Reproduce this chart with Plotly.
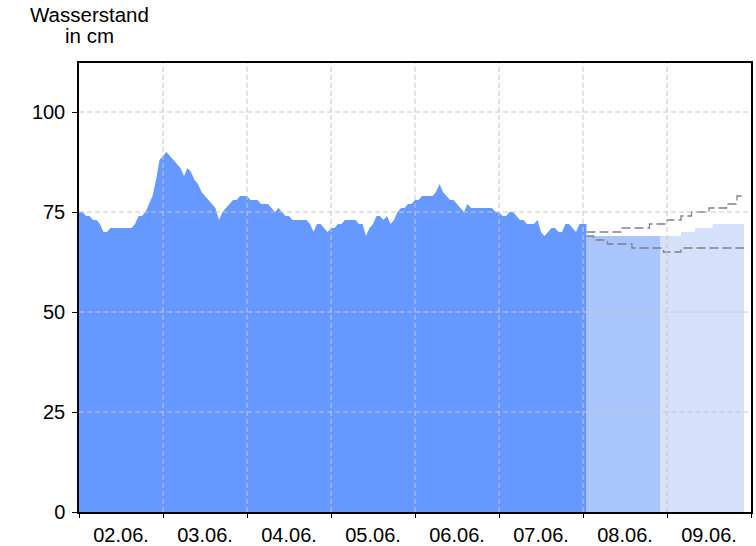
import plotly.graph_objects as go
import pandas as pd

# ---- data ----
start = pd.Timestamp("2023-06-02 00:00")

# measured water level (cm), hourly from 02.06. 00:00
measured_cm = [
    75, 75, 74, 74, 73, 73, 72, 70, 70, 71, 71, 71, 71, 71, 71, 71,
    72, 74, 74, 75, 77, 79, 83, 88, 89, 90, 89, 88, 87, 86, 84, 86,
    85, 83, 82, 80, 79, 78, 77, 76, 73, 75, 76, 77, 78, 78, 79, 79,
    79, 78, 78, 78, 77, 77, 77, 76, 75, 76, 75, 74, 74, 73, 73, 73,
    73, 73, 72, 70, 72, 72, 71, 70, 71, 71, 72, 72, 73, 73, 73, 73,
    72, 72, 69, 71, 72, 74, 74, 73, 74, 72, 73, 75, 76, 76, 77, 77,
    78, 78, 79, 79, 79, 79, 80, 82, 80, 79, 78, 78, 77, 76, 75, 77,
    76, 76, 76, 76, 76, 76, 76, 75, 75, 74, 74, 75, 75, 74, 73, 73,
    72, 72, 72, 73, 70, 69, 70, 71, 71, 70, 70, 72, 72, 71, 70, 72,
    72, 72,
]

# forecast (hours since 02.06. 00:00, step values)
forecast_hours = [145, 166]
forecast_cm = [69, 69]
estimate_hours = [166, 172, 176, 181, 190]
estimate_cm = [69, 70, 71, 72, 72]

upper_hours = [145, 155, 163, 168, 172, 175, 180, 185, 188, 190]
upper_cm = [70, 71, 72, 73, 74, 75, 76, 77, 79, 79]
lower_hours = [145, 147, 151, 158, 167, 172, 190]
lower_cm = [69, 68, 67, 66, 65, 66, 66]

y_ticks = [0, 25, 50, 75, 100]
day_count = 8
title_lines = ["Wasserstand", "in cm"]

# ---- helpers ----
def ts(hours):
    return [start + pd.Timedelta(hours=h) for h in hours]

measured_x = ts(range(len(measured_cm)))

C_MEAS = "#6699FF"
C_FC = "#A9C5FB"
C_EST = "#D5E1FA"
GRID = "#C8C8C8"
FONT = "Liberation Sans, Arial, sans-serif"
GRID_DASH = "5px,3px"
BAND_DASH = "9px,4px"

fig = go.Figure()

fig.add_trace(go.Scatter(
    x=ts(estimate_hours), y=estimate_cm, mode="lines", line=dict(width=0, shape="hv"),
    fill="tozeroy", fillcolor=C_EST, hoverinfo="skip", showlegend=False))
fig.add_trace(go.Scatter(
    x=ts(forecast_hours), y=forecast_cm, mode="lines", line=dict(width=0, shape="hv"),
    fill="tozeroy", fillcolor=C_FC, hoverinfo="skip", showlegend=False))
fig.add_trace(go.Scatter(
    x=measured_x, y=measured_cm, mode="lines", line=dict(width=0),
    fill="tozeroy", fillcolor=C_MEAS, showlegend=False))
fig.add_trace(go.Scatter(
    x=ts(upper_hours), y=upper_cm, mode="lines",
    line=dict(color="#808080", width=1.3, dash=BAND_DASH, shape="hv"), showlegend=False))
fig.add_trace(go.Scatter(
    x=ts(lower_hours), y=lower_cm, mode="lines",
    line=dict(color="#808080", width=1.3, dash=BAND_DASH, shape="hv"), showlegend=False))

# grid lines drawn above the filled areas
shapes = []
for d in range(1, day_count):
    xd = start + pd.Timedelta(days=d)
    shapes.append(dict(type="line", xref="x", yref="paper", x0=xd, x1=xd, y0=0, y1=1,
                       line=dict(color=GRID, width=1, dash=GRID_DASH), layer="above"))
for v in y_ticks[1:]:
    shapes.append(dict(type="line", xref="paper", yref="y", x0=0, x1=1, y0=v, y1=v,
                       line=dict(color=GRID, width=1, dash=GRID_DASH), layer="above"))

annotations = []
for i, line in enumerate(title_lines):
    annotations.append(dict(text=line, xref="paper", yref="paper",
                            x=0.015, y=1.0, yshift=62 - 21 * i,
                            xanchor="center", yanchor="top", showarrow=False,
                            font=dict(family=FONT, size=20.5, color="black")))

fig.update_layout(
    width=756, height=546,
    margin=dict(l=79, r=5, t=63, b=34, autoexpand=False),
    paper_bgcolor="white", plot_bgcolor="white",
    font=dict(family=FONT, size=20, color="black"),
    shapes=shapes,
    showlegend=False,
    annotations=annotations,
)
fig.update_xaxes(
    type="date",
    range=[start, start + pd.Timedelta(days=day_count)],
    tick0=start, dtick=86400000, tickformat="%d.%m.", ticklabelmode="period",
    showgrid=False, ticks="outside", ticklen=4, tickcolor="black",
    showline=True, linecolor="black", linewidth=1.5, mirror=True,
    tickfont=dict(size=20), zeroline=False, ticklabelstandoff=0,
)
fig.update_yaxes(
    range=[0, 112.25], tickvals=y_ticks,
    showgrid=False, ticks="outside", ticklen=5, tickcolor="black",
    showline=True, linecolor="black", linewidth=1.5, mirror=True,
    tickfont=dict(size=20), zeroline=False, ticklabelstandoff=3,
)

fig.write_html("out.html", config={"displayModeBar": False},
               post_script="document.body.style.margin='0';")
